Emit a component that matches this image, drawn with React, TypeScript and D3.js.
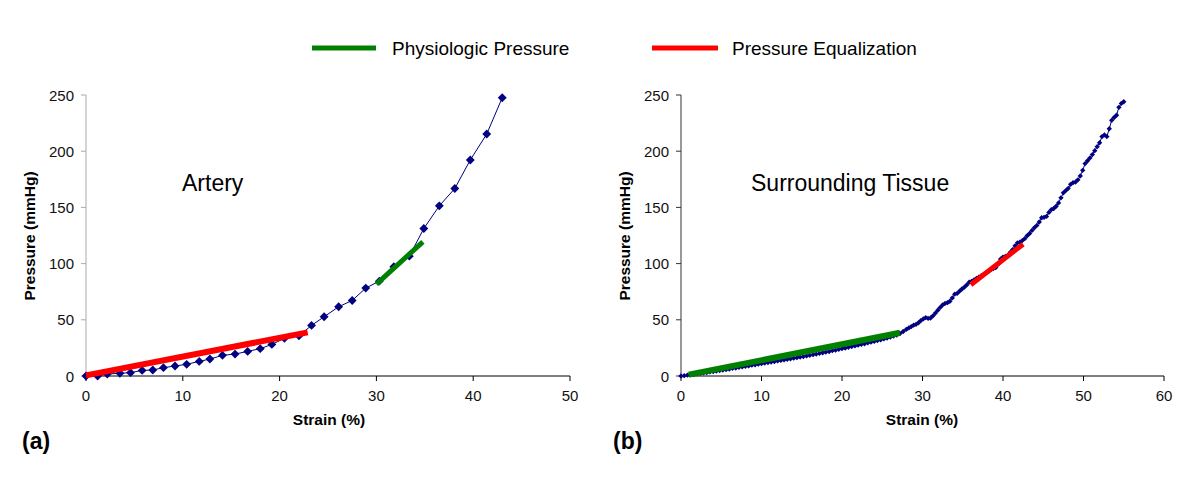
import React from "react";
import * as d3 from "d3";

// ---------- data ----------
const arteryStrain = [0, 1.2, 2.2, 3.5, 4.6, 5.8, 6.9, 8.0, 9.2, 10.4, 11.7, 12.8, 14.1, 15.4, 16.7, 18.0, 19.2, 20.5, 22.0, 23.3, 24.6, 26.1, 27.5, 28.9, 30.3, 31.8, 33.4, 34.9, 36.5, 38.1, 39.7, 41.4, 43.0];
const arteryPressure = [0, 0, 1.8, 2.4, 3, 5, 5.3, 7.4, 8.9, 10.4, 13, 15.1, 18.4, 19.5, 21.9, 24.3, 28.1, 33.5, 35.8, 45, 52.7, 61.6, 67.2, 78.2, 84.4, 97.2, 106.6, 131.2, 151.4, 166.8, 192.2, 215.3, 247.6];

const tissueStrain = [
  0.0, 0.4, 0.8, 1.2, 1.6, 2.0, 2.4, 2.8, 3.2, 3.6, 4.0, 4.4, 4.8, 5.2, 5.6, 6.0, 6.4, 6.8, 7.2, 7.6,
  8.0, 8.4, 8.8, 9.2, 9.6, 10.0, 10.4, 10.8, 11.2, 11.6, 12.0, 12.4, 12.8, 13.2, 13.6, 14.0, 14.4, 14.8, 15.2, 15.6,
  16.0, 16.4, 16.8, 17.2, 17.6, 18.0, 18.4, 18.8, 19.2, 19.6, 20.0, 20.4, 20.8, 21.2, 21.6, 22.0, 22.4, 22.8, 23.2, 23.6,
  24.0, 24.4, 24.8, 25.2, 25.6, 26.0, 26.4, 26.8, 27.2, 27.6, 28.0, 28.3, 28.6, 28.9, 29.2, 29.5, 29.8, 30.1, 30.4, 30.7,
  31.0, 31.3, 31.6, 31.9, 32.2, 32.5, 32.8, 33.1, 33.4, 33.7, 34.0, 34.3, 34.6, 34.9, 35.2, 35.5, 35.8, 36.1, 36.4, 36.7,
  37.0, 37.3, 37.6, 37.9, 38.2, 38.5, 38.8, 39.1, 39.4, 39.7, 40.0, 40.3, 40.6, 40.9, 41.2, 41.5, 41.8, 42.1, 42.4, 42.7,
  43.0, 43.3, 43.6, 43.9, 44.2, 44.5, 44.8, 45.1, 45.4, 45.7, 46.0, 46.3, 46.6, 46.9, 47.2, 47.5, 47.8, 48.1, 48.4, 48.7,
  49.0, 49.3, 49.6, 49.9, 50.2, 50.5, 50.8, 51.1, 51.4, 51.7, 52.0, 52.3, 52.6, 52.9, 53.2, 53.5, 53.8, 54.1, 54.4, 54.7, 55.0,
];
const tissuePressure = [
  0.0, 0.3, 0.8, 1.0, 1.5, 1.9, 2.4, 2.7, 3.1, 3.6, 3.9, 4.4, 4.9, 5.3, 5.8, 6.2, 6.8, 7.1, 7.7, 8.1,
  8.6, 9.0, 9.6, 10.0, 10.5, 11.0, 11.5, 11.9, 12.4, 12.9, 13.4, 13.9, 14.3, 14.9, 15.3, 15.9, 16.3, 16.9, 17.3, 17.9,
  18.4, 19.0, 19.5, 20.1, 20.7, 21.3, 21.8, 22.5, 23.0, 23.7, 24.3, 24.9, 25.5, 26.2, 26.8, 27.4, 28.1, 28.7, 29.5, 30.1,
  30.8, 31.6, 32.2, 33.0, 33.8, 34.6, 35.5, 36.5, 37.8, 39.6, 41.5, 42.8, 44.0, 45.2, 46.0, 47.4, 49.3, 50.8, 52.0, 51.2,
  51.6, 53.5, 56.0, 58.5, 61.0, 63.2, 64.6, 65.2, 66.5, 69.5, 72.8, 73.5, 75.5, 77.4, 79.0, 81.0, 83.5, 84.2, 85.5, 86.8,
  88.0, 89.2, 90.4, 92.0, 93.2, 94.6, 95.6, 96.5, 99.5, 104.0, 105.8, 106.5, 107.4, 110.0, 112.5, 115.8, 118.5, 119.0, 120.5, 122.2,
  124.8, 126.8, 129.5, 132.0, 134.0, 137.0, 140.8, 141.2, 142.0, 145.5, 148.0, 149.0, 151.0, 154.0, 158.5, 163.0, 165.0, 167.0, 170.5, 172.0,
  172.5, 174.5, 178.0, 183.0, 189.0, 191.5, 194.0, 197.0, 200.5, 204.0, 207.5, 213.0, 214.5, 213.0, 220.0, 227.5, 230.0, 232.0, 239.0, 242.5, 244.0,
];

// fitted segments [x1, y1, x2, y2]
const arteryEqualization = [0, 0.6, 22.9, 38.8];
const arteryPhysiologic = [30.0, 81.8, 34.8, 119.4];
const tissuePhysiologic = [0.95, 1.2, 27.2, 38.5];
const tissueEqualization = [36.0, 81.2, 42.5, 117.3];

const arteryXTicks = [0, 10, 20, 30, 40, 50];
const tissueXTicks = [0, 10, 20, 30, 40, 50, 60];
const yTicks = [0, 50, 100, 150, 200, 250];

const legendItems = ["Physiologic Pressure", "Pressure Equalization"];

// ---------- styles ----------
const FONT = "'Liberation Sans', Arial, sans-serif";
const NAVY = "#000080";
const GREEN = "#008000";
const RED = "#ff0000";

type PanelProps = {
  x0: number; x1: number; xMax: number; xTicks: number[];
  xs: number[]; ys: number[];
  seg1: number[]; seg1Color: string; seg2: number[]; seg2Color: string;
  yAxisColor: string; markerSize: number; label: string; letter: string; labelX: number; letterX: number; titleX: number;
};

function Panel(p: PanelProps) {
  const x = d3.scaleLinear().domain([0, p.xMax]).range([p.x0, p.x1]);
  const y = d3.scaleLinear().domain([0, 250]).range([376, 95]);
  const pts = p.xs.map((v, i) => [v, p.ys[i]] as [number, number]);
  const line = d3.line<[number, number]>().x((d) => x(d[0])).y((d) => y(d[1]));
  const sym = d3.symbol().type(d3.symbolDiamond2).size(p.markerSize)();
  const seg = (s: number[], c: string, w: number) => (
    <line x1={x(s[0])} y1={y(s[1])} x2={x(s[2])} y2={y(s[3])} stroke={c} strokeWidth={w} />
  );
  return (
    <g>
      {/* y axis */}
      <line x1={p.x0} y1={95} x2={p.x0} y2={376} stroke={p.yAxisColor} strokeWidth={1} />
      {yTicks.map((t) => (
        <g key={t}>
          <line x1={p.x0 - 5} x2={p.x0} y1={y(t)} y2={y(t)} stroke={p.yAxisColor} />
          <text x={p.x0 - 12} y={y(t) + 5.5} textAnchor="end" fontSize={15} fill="#111">{t}</text>
        </g>
      ))}
      {/* x axis */}
      <line x1={p.x0} y1={376} x2={p.x1} y2={376} stroke="#000" strokeWidth={1} />
      {p.xTicks.map((t) => (
        <g key={t}>
          <line x1={x(t)} x2={x(t)} y1={376} y2={381} stroke="#000" />
          <text x={x(t)} y={401} textAnchor="middle" fontSize={15} fill="#111">{t}</text>
        </g>
      ))}
      <text x={p.titleX} y={425} textAnchor="middle" fontSize={15.5} fontWeight="bold">Strain (%)</text>
      <text transform={`translate(${p.x0 - 51},236) rotate(-90)`} textAnchor="middle" fontSize={15.5} fontWeight="bold">Pressure (mmHg)</text>
      <text x={p.letterX} y={449} fontSize={23} fontWeight="bold">{p.letter}</text>
      <text x={p.labelX} y={191} fontSize={23}>{p.label}</text>
      {/* data */}
      <path d={line(pts) || ""} fill="none" stroke={NAVY} strokeWidth={1} />
      {pts.map((d, i) => (
        <path key={i} d={sym || ""} transform={`translate(${x(d[0])},${y(d[1])})`} fill={NAVY} />
      ))}
      {seg(p.seg1, p.seg1Color, 6)}
      {seg(p.seg2, p.seg2Color, 5)}
    </g>
  );
}

export default function App() {
  return (
    <svg width={1200} height={491} style={{ display: "block", position: "absolute", left: 0, top: 0, background: "#fff" }} fontFamily={FONT}>
      <rect width={1200} height={491} fill="#fff" />
      {/* legend */}
      <line x1={312} x2={376} y1={48} y2={48} stroke={GREEN} strokeWidth={5} />
      <text x={392} y={55} fontSize={19}>{legendItems[0]}</text>
      <line x1={652} x2={718} y1={48} y2={48} stroke={RED} strokeWidth={5} />
      <text x={732} y={55} fontSize={19}>{legendItems[1]}</text>
      <Panel x0={86} x1={570} xMax={50} xTicks={arteryXTicks} xs={arteryStrain} ys={arteryPressure}
        seg1={arteryEqualization} seg1Color={RED} seg2={arteryPhysiologic} seg2Color={GREEN}
        yAxisColor="#aaaaaa" markerSize={50} label="Artery" letter="(a)" labelX={182} letterX={22} titleX={329} />
      <Panel x0={681} x1={1164} xMax={60} xTicks={tissueXTicks} xs={tissueStrain} ys={tissuePressure}
        seg1={tissuePhysiologic} seg1Color={GREEN} seg2={tissueEqualization} seg2Color={RED}
        yAxisColor="#333333" markerSize={18} label="Surrounding Tissue" letter="(b)" labelX={751} letterX={613} titleX={922} />
    </svg>
  );
}
